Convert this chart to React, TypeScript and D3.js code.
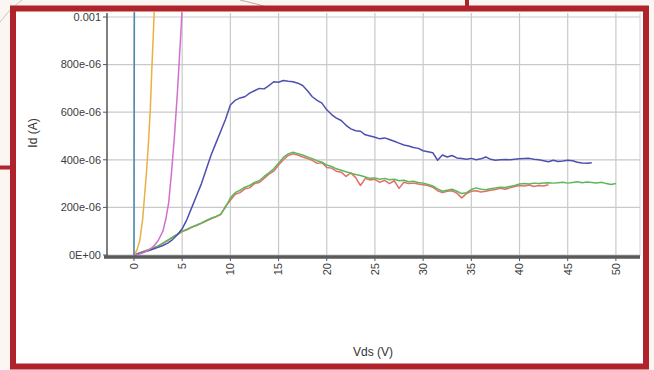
import React from "react";
import * as d3 from "d3";

// Vds (V) and Id (µA) values
const tealVds = [0, 0.02, 0.05];
const tealId = [0, 600, 1200];

const orangeVds = [0, 0.3, 0.6, 0.9, 1.1, 1.3, 1.5, 1.7, 1.85, 2.0, 2.15];
const orangeId = [0, 20, 60, 150, 250, 350, 470, 620, 780, 920, 1080];

const pinkVds = [0, 0.5, 1, 1.5, 2, 2.5, 3, 3.3, 3.6, 3.9, 4.2, 4.5, 4.7, 4.9, 5.05];
const pinkId = [0, 3, 10, 20, 35, 60, 100, 150, 220, 350, 500, 680, 820, 960, 1080];

const blueVds = [
  0, 0.5, 1, 1.5, 2, 2.5, 3, 3.5, 4, 4.5, 5, 5.5, 6, 6.5, 7, 7.5, 8, 8.5, 9, 9.5,
  10, 10.5, 11, 11.5, 12, 12.5, 13, 13.5, 14, 14.5, 15, 15.5, 16, 16.5, 17, 17.5, 18, 18.5, 19, 19.5,
  20, 20.5, 21, 21.5, 22, 22.5, 23, 23.5, 24, 24.5, 25, 25.5, 26, 26.5, 27, 27.5, 28, 28.5, 29, 29.5,
  30, 30.5, 31, 31.5, 32, 32.5, 33, 33.5, 34, 34.5, 35, 35.5, 36, 36.5, 37, 37.5, 38, 38.5, 39, 39.5,
  40, 40.5, 41, 41.5, 42, 42.5, 43, 43.5, 44, 44.5, 45, 45.5, 46, 46.5, 47, 47.5,
];
const blueId = [
  0, 5, 12, 18, 25, 32, 40, 50, 65, 85, 110, 150, 200, 250, 300, 360, 420, 470, 520, 570,
  630, 650, 660, 665, 680, 690, 700, 698, 712, 728, 726, 733, 730, 728, 722, 712, 690, 665, 650, 638,
  610, 590, 575, 565, 545, 530, 522, 520, 505, 500, 495, 488, 492, 485, 478, 470, 462, 458, 452, 448,
  438, 434, 430, 398, 420, 412, 418, 408, 405, 402, 406, 400, 404, 412, 402, 398, 400, 401, 400, 402,
  404, 405, 406, 402, 400, 396, 392, 398, 393, 395, 398, 396, 390, 387, 386, 388,
];

const greenVds = [
  0, 0.5, 1, 1.5, 2, 2.5, 3, 3.5, 4, 4.5, 5, 5.5, 6, 6.5, 7, 7.5, 8, 8.5, 9, 9.5,
  10, 10.5, 11, 11.5, 12, 12.5, 13, 13.5, 14, 14.5, 15, 15.5, 16, 16.5, 17, 17.5, 18, 18.5, 19, 19.5,
  20, 20.5, 21, 21.5, 22, 22.5, 23, 23.5, 24, 24.5, 25, 25.5, 26, 26.5, 27, 27.5, 28, 28.5, 29, 29.5,
  30, 30.5, 31, 31.5, 32, 32.5, 33, 33.5, 34, 34.5, 35, 35.5, 36, 36.5, 37, 37.5, 38, 38.5, 39, 39.5,
  40, 40.5, 41, 41.5, 42, 42.5, 43, 43.5, 44, 44.5, 45, 45.5, 46, 46.5, 47, 47.5, 48, 48.5, 49, 49.5, 50,
];
const greenId = [
  0, 8, 15, 22, 30, 38, 50, 62, 75, 88, 100, 108, 118, 126, 135, 145, 155, 162, 172, 200,
  240, 262, 272, 285, 292, 305, 312, 330, 345, 362, 385, 410, 425, 432, 426, 420, 412, 405, 396, 390,
  378, 372, 362, 356, 350, 344, 338, 334, 328, 322, 324, 318, 322, 316, 318, 312, 314, 308, 310, 305,
  302, 296, 290, 278, 268, 272, 276, 268, 258, 262, 275, 282, 276, 274, 278, 282, 285, 284, 288, 292,
  298, 300, 298, 302, 300, 303, 304, 302, 304, 306, 302, 305, 308, 304, 307, 305, 303, 306, 300, 296, 300,
];

const redVds = [
  0, 0.5, 1, 1.5, 2, 2.5, 3, 3.5, 4, 4.5, 5, 5.5, 6, 6.5, 7, 7.5, 8, 8.5, 9, 9.5,
  10, 10.5, 11, 11.5, 12, 12.5, 13, 13.5, 14, 14.5, 15, 15.5, 16, 16.5, 17, 17.5, 18, 18.5, 19, 19.5,
  20, 20.5, 21, 21.5, 22, 22.5, 23, 23.5, 24, 24.5, 25, 25.5, 26, 26.5, 27, 27.5, 28, 28.5, 29, 29.5,
  30, 30.5, 31, 31.5, 32, 32.5, 33, 33.5, 34, 34.5, 35, 35.5, 36, 36.5, 37, 37.5, 38, 38.5, 39, 39.5,
  40, 40.5, 41, 41.5, 42, 42.5, 43,
];
const redId = [
  0, 8, 15, 22, 29, 37, 49, 61, 74, 86, 98, 106, 116, 124, 133, 143, 152, 160, 170, 205,
  230, 255, 262, 278, 282, 300, 305, 322, 340, 352, 378, 400, 418, 425, 420, 412, 405, 398, 385, 388,
  368, 365, 352, 348, 330, 345, 325, 292, 322, 315, 318, 305, 314, 300, 312, 280, 306, 300, 302, 298,
  295, 292, 285, 270, 262, 268, 270, 260, 240, 258, 268, 270, 265, 268, 272, 275, 280, 276, 282, 288,
  292, 290, 294, 288, 292, 290, 295,
];

const xTicks = [0, 5, 10, 15, 20, 25, 30, 35, 40, 45, 50];
const yTicks = [0, 200, 400, 600, 800, 1000];
const yTickLabels = ["0E+00", "200e-06", "400e-06", "600e-06", "800e-06", "0.001"];

const W = 654;
const H = 370;
const plotL = 107;
const plotR = 640;
const plotT = 17;
const plotB = 256;

export default function App() {
  const x = d3.scaleLinear().domain([-2.8, 52.5]).range([plotL, plotR]);
  const y = d3.scaleLinear().domain([0, 1000]).range([255, plotT]);

  const mk = (vs: number[], is: number[]) =>
    d3
      .line<number>()
      .x((_, i) => x(vs[i]))
      .y((d) => y(d))(is) || "";

  const series = [
    { vs: redVds, is: redId, color: "#e26f6a" },
    { vs: greenVds, is: greenId, color: "#5cb85a" },
    { vs: blueVds, is: blueId, color: "#4d50b0" },
    { vs: pinkVds, is: pinkId, color: "#d36fd0" },
    { vs: orangeVds, is: orangeId, color: "#eab045" },
    { vs: tealVds, is: tealId, color: "#4a88b0" },
  ];

  const font = "'Liberation Sans', Arial, sans-serif";

  return (
    <svg
      width={W}
      height={H}
      style={{ position: "absolute", left: 0, top: 0, display: "block" }}
      fontFamily={font}
    >
      <defs>
        <clipPath id="plotclip">
          <rect x={plotL} y={12} width={plotR - plotL} height={plotB - 12} />
        </clipPath>
      </defs>
      {/* photo background outside frame */}
      <rect x={0} y={0} width={W} height={H} fill="#fbf6f2" />
      <path d="M0,22 Q10,8 22,0" fill="none" stroke="#c9c4c0" strokeWidth={1} />
      <path d="M240,0 Q258,4 270,8" fill="none" stroke="#b8a8a8" strokeWidth={1} />
      <line x1={0} x2={12} y1={167.5} y2={167.5} stroke="#b3242c" strokeWidth={4} />
      <line x1={467} x2={467} y1={0} y2={8} stroke="#a8262a" strokeWidth={4} />
      {/* white panel */}
      <rect x={13} y={8.5} width={633} height={358} fill="#ffffff" />

      {/* grid */}
      {xTicks.map((t) => (
        <line
          key={"gx" + t}
          x1={x(t)}
          x2={x(t)}
          y1={13}
          y2={plotB}
          stroke="#c9c9c9"
          strokeWidth={1.2}
        />
      ))}
      <line x1={plotR} x2={plotR} y1={13} y2={plotB} stroke="#d0d0d0" strokeWidth={1} />
      {yTicks.map((t) => (
        <line
          key={"gy" + t}
          x1={plotL}
          x2={plotR}
          y1={y(t)}
          y2={y(t)}
          stroke="#c9c9c9"
          strokeWidth={1.2}
        />
      ))}

      {/* data */}
      <g clipPath="url(#plotclip)">
        {series.map((s, i) => (
          <path
            key={i}
            d={mk(s.vs, s.is)}
            fill="none"
            stroke={s.color}
            strokeWidth={1.5}
            strokeLinejoin="round"
          />
        ))}
      </g>

      {/* axes */}
      <line x1={plotL} x2={plotL} y1={13} y2={plotB} stroke="#555" strokeWidth={1.5} />
      <line x1={plotL - 3} x2={plotR} y1={plotB + 1} y2={plotB + 1} stroke="#5a5a5a" strokeWidth={3.5} />
      {yTicks.map((t, i) => (
        <g key={"yt" + t}>
          <line x1={plotL - 4} x2={plotL} y1={y(t)} y2={y(t)} stroke="#555" strokeWidth={1} />
          <text
            x={plotL - 6}
            y={y(t)}
            dy="0.35em"
            textAnchor="end"
            fontSize={11}
            fill="#3c3c3c"
          >
            {yTickLabels[i]}
          </text>
        </g>
      ))}
      {xTicks.map((t) => (
        <g key={"xt" + t}>
          <line x1={x(t)} x2={x(t)} y1={plotB + 2} y2={plotB + 5} stroke="#555" strokeWidth={1} />
          <text
            transform={`translate(${x(t)},${plotB + 7}) rotate(-90)`}
            dy="0.35em"
            textAnchor="end"
            fontSize={11}
            fill="#3c3c3c"
          >
            {t}
          </text>
        </g>
      ))}

      <text
        transform="translate(33,133) rotate(-90)"
        textAnchor="middle"
        dy="0.35em"
        fontSize={12}
        fill="#333"
      >
        Id (A)
      </text>
      <text x={373} y={352} textAnchor="middle" dy="0.35em" fontSize={12} fill="#333">
        Vds (V)
      </text>

      {/* red frame */}
      <rect
        x={13}
        y={8.5}
        width={633}
        height={358}
        fill="none"
        stroke="#b0232b"
        strokeWidth={6}
      />
    </svg>
  );
}
